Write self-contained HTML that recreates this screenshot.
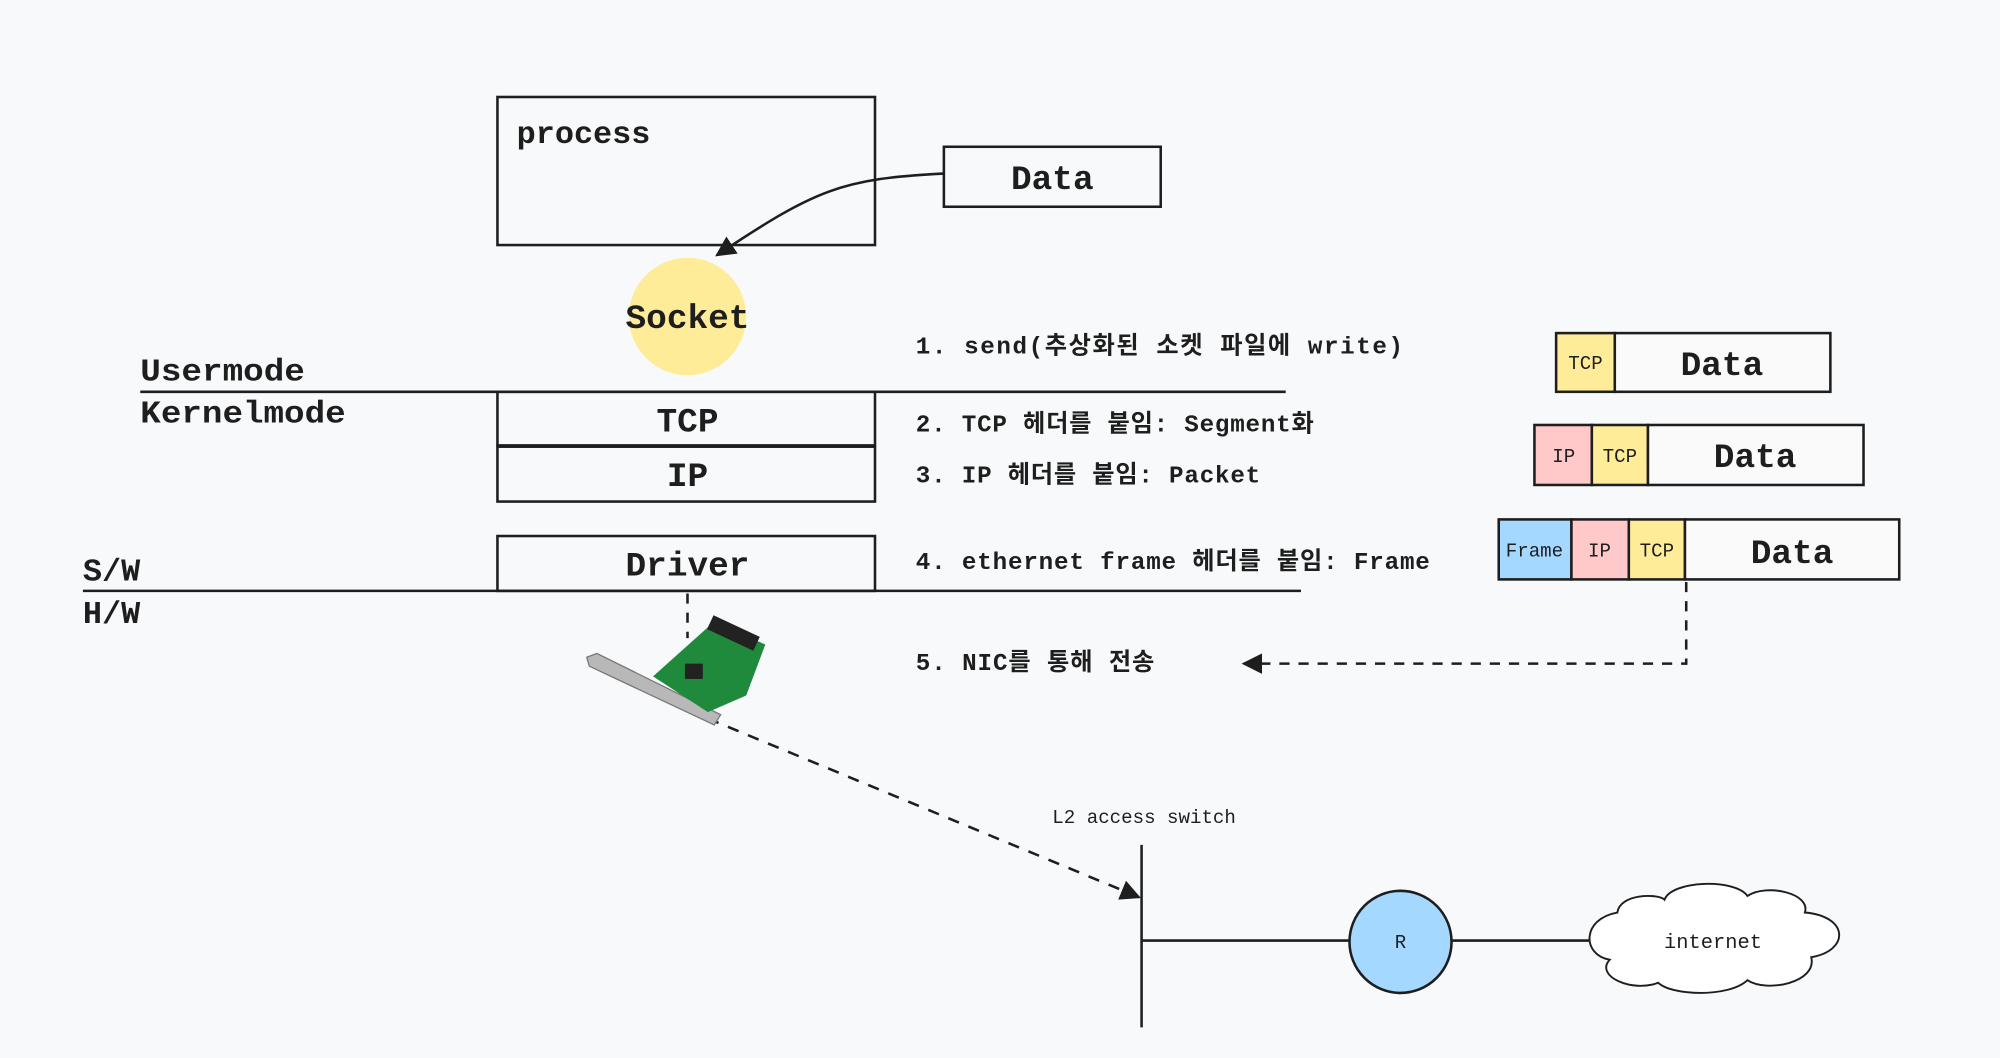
<!DOCTYPE html>
<html><head><meta charset="utf-8"><style>
html,body{margin:0;padding:0;background:#f8f9fa;}
svg{display:block}
text{font-family:"Liberation Mono","Noto Sans CJK KR",monospace;fill:#1e1e1e}
</style></head><body>
<svg width="2000" height="1058" viewBox="0 0 1568 829" preserveAspectRatio="none" xmlns="http://www.w3.org/2000/svg">
<defs>
<marker id="ah2" viewBox="0 0 10 10" refX="9" refY="5" markerWidth="16" markerHeight="16" orient="auto" markerUnits="userSpaceOnUse"><path d="M0,0 L10,5 L0,10 z" fill="#1e1e1e"/></marker>
</defs>
<rect width="1568" height="829" fill="#f8f9fa"/>
<g stroke="#1e1e1e" stroke-width="2" fill="none">
<rect x="390" y="76" width="296" height="116"/>
<rect x="740" y="115" width="170" height="47"/>
<path d="M740,136 C660,140 640,148 562,200" marker-end="url(#ah2)"/>
<line x1="110" y1="307" x2="1008" y2="307"/>
<rect x="390" y="307" width="296" height="42"/>
<rect x="390" y="350" width="296" height="43"/>
<rect x="390" y="420" width="296" height="43"/>
<line x1="65" y1="463" x2="1020" y2="463"/>
<line x1="539" y1="465" x2="539" y2="500" stroke-dasharray="8 7"/>
<line x1="555" y1="563" x2="893" y2="703" stroke-dasharray="9 8" marker-end="url(#ah2)"/>
<line x1="895" y1="662" x2="895" y2="805"/>
<line x1="895" y1="737" x2="1058" y2="737"/>
<line x1="1138" y1="737" x2="1252" y2="737"/>
<path d="M1322,456 L1322,520 L975,520" stroke-dasharray="8 7" marker-end="url(#ah2)"/>
</g>
<circle cx="539" cy="248" r="46" fill="#ffec99"/>
<circle cx="1098" cy="738" r="40" fill="#a5d8ff" stroke="#1e1e1e" stroke-width="2"/>
<path d="M1268,715 C1270,700 1300,700 1305,705 C1310,690 1360,688 1370,702 C1385,692 1420,700 1415,715 C1450,718 1450,745 1420,750 C1425,770 1385,778 1370,768 C1355,782 1310,780 1300,770 C1280,778 1250,765 1262,752 C1240,748 1240,720 1268,715 Z" fill="#fff" stroke="#1e1e1e" stroke-width="1.5"/>
<g>
<polygon points="460,515 468,512 565,560 560,568 462,522" fill="#b8b8b8" stroke="#777" stroke-width="1"/>
<polygon points="512,530 560,487 600,505 585,545 555,558" fill="#1f8a3c"/>
<rect x="555" y="490" width="40" height="12" fill="#222" transform="rotate(25 575 496)"/>
<rect x="537" y="520" width="14" height="12" fill="#222"/>
</g>
<g stroke="#1e1e1e" stroke-width="2">
<rect x="1220" y="261" width="46" height="46" fill="#ffec99"/>
<rect x="1266" y="261" width="169" height="46" fill="#fafafa"/>
<rect x="1203" y="333" width="45" height="47" fill="#ffc9c9"/>
<rect x="1248" y="333" width="44" height="47" fill="#ffec99"/>
<rect x="1292" y="333" width="169" height="47" fill="#fafafa"/>
<rect x="1175" y="407" width="57" height="47" fill="#a5d8ff"/>
<rect x="1232" y="407" width="45" height="47" fill="#ffc9c9"/>
<rect x="1277" y="407" width="44" height="47" fill="#ffec99"/>
<rect x="1321" y="407" width="168" height="47" fill="#fafafa"/>
</g>
<g font-size="15" text-anchor="middle">
<text x="1243" y="289">TCP</text>
<text x="1226" y="362">IP</text><text x="1270" y="362">TCP</text>
<text x="1203" y="436">Frame</text><text x="1254" y="436">IP</text><text x="1299" y="436">TCP</text>
</g>
<g font-size="27" font-weight="bold" text-anchor="middle">
<text x="1350" y="294">Data</text>
<text x="1376" y="366">Data</text>
<text x="1405" y="441">Data</text>
<text x="825" y="148">Data</text>
<text x="539" y="257">Socket</text>
<text x="539" y="338">TCP</text>
<text x="539" y="381">IP</text>
<text x="539" y="451">Driver</text>
</g>
<g font-size="25" font-weight="bold">
<text x="405" y="112">process</text>
<text x="110" y="298" textLength="129" lengthAdjust="spacingAndGlyphs">Usermode</text>
<text x="110" y="331" textLength="161" lengthAdjust="spacingAndGlyphs">Kernelmode</text>
<text x="65" y="455">S/W</text>
<text x="65" y="488">H/W</text>
</g>
<g font-size="19" font-weight="bold">
<text x="718" y="277" textLength="382" lengthAdjust="spacing">1. send(추상화된 소켓 파일에 write)</text>
<text x="718" y="338" textLength="312" lengthAdjust="spacing">2. TCP 헤더를 붙임: Segment화</text>
<text x="718" y="378" textLength="270" lengthAdjust="spacing">3. IP 헤더를 붙임: Packet</text>
<text x="718" y="446" textLength="403" lengthAdjust="spacing">4. ethernet frame 헤더를 붙임: Frame</text>
<text x="718" y="525" textLength="187" lengthAdjust="spacing">5. NIC를 통해 전송</text>
</g>
<text x="825" y="645" font-size="15">L2 access switch</text>
<text x="1098" y="743" font-size="15" text-anchor="middle">R</text>
<text x="1343" y="743" font-size="16" text-anchor="middle">internet</text>
</svg>
</body></html>
